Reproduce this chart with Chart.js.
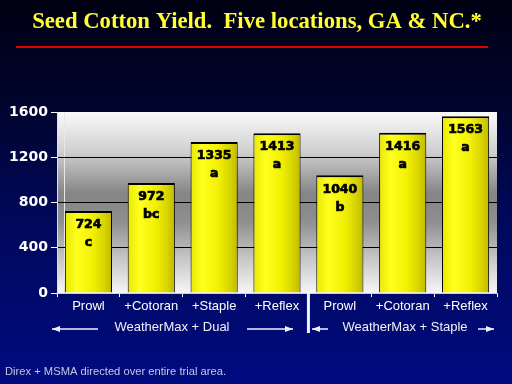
<!DOCTYPE html>
<html>
<head>
<meta charset="utf-8">
<script src="https://cdn.jsdelivr.net/npm/chart.js@4"></script>
<style>
  html, body { margin: 0; padding: 0; }
  body {
    width: 512px; height: 384px; overflow: hidden;
    background: linear-gradient(to bottom, #000012 0%, #00042a 25%, #000858 55%, #000b80 100%);
  }
  #wrap { position: relative; width: 512px; height: 384px; }
</style>
</head>
<body>
<div id="wrap"><canvas id="yieldChart" width="512" height="384"></canvas></div>
<script>
const categories = ['Prowl', '+Cotoran', '+Staple', '+Reflex', 'Prowl', '+Cotoran', '+Reflex'];
const yieldValues = [724, 972, 1335, 1413, 1040, 1416, 1563];
const letterGroups = ['c', 'bc', 'a', 'a', 'b', 'a', 'a'];
const yTicks = [0, 400, 800, 1200, 1600];
const groupNames = ['WeatherMax + Dual', 'WeatherMax + Staple'];
const titleText = 'Seed Cotton Yield.  Five locations, GA & NC.*';
const footText = 'Direx + MSMA directed over entire trial area.';

// fond gris du graphique (blanc -> gris -> blanc)
const plotBackground = {
    id: 'plotBackground',
    beforeDraw(chart) {
        const a = chart.chartArea;
        const c = chart.ctx;
        const g = c.createLinearGradient(0, a.top, 0, a.bottom);
        g.addColorStop(0, '#fafafa');
        g.addColorStop(0.22, '#cfcfcf');
        g.addColorStop(0.45, '#858585');
        g.addColorStop(0.6, '#8e8e8e');
        g.addColorStop(0.8, '#c4c4c4');
        g.addColorStop(1, '#f6f6f6');
        c.save();
        c.fillStyle = g;
        c.fillRect(a.left, a.top, a.right - a.left, a.bottom - a.top);
        c.strokeStyle = '#e8e8e8';
        c.lineWidth = 1;
        c.beginPath();
        c.moveTo(a.left + 7.5, a.top);
        c.lineTo(a.left + 7.5, a.bottom);
        c.stroke();
        c.restore();
    }
};

function arrow(c, x1, x2, y) {
    c.beginPath();
    c.moveTo(x1, y);
    c.lineTo(x2, y);
    c.stroke();
    const dir = x2 > x1 ? 1 : -1;
    c.beginPath();
    c.moveTo(x2, y);
    c.lineTo(x2 - dir * 8, y - 3);
    c.lineTo(x2 - dir * 8, y + 3);
    c.closePath();
    c.fill();
}

const decorations = {
    id: 'decorations',
    afterDraw(chart) {
        const c = chart.ctx;
        const a = chart.chartArea;
        const x = chart.scales.x;
        c.save();

        // titre
        c.fillStyle = '#ffff33';
        c.font = 'bold 22.7px "Liberation Serif", "Times New Roman", serif';
        c.textAlign = 'center';
        c.textBaseline = 'middle';
        c.fillText(titleText, 257, 22);

        c.strokeStyle = '#e00000';
        c.lineWidth = 2;
        c.beginPath();
        c.moveTo(16, 47);
        c.lineTo(488, 47);
        c.stroke();

        // valeurs + lettres dans les barres
        const meta = chart.getDatasetMeta(0);
        c.font = 'bold 12.5px "DejaVu Sans", sans-serif';
        c.fillStyle = '#000';
        c.strokeStyle = '#000';
        c.lineWidth = 0.7;
        meta.data.forEach((bar, i) => {
            const ty = bar.y + 14;
            c.fillText(String(yieldValues[i]), bar.x, ty);
            c.strokeText(String(yieldValues[i]), bar.x, ty);
            c.fillText(letterGroups[i], bar.x, ty + 18);
            c.strokeText(letterGroups[i], bar.x, ty + 18);
        });

        // groupes sous l'axe
        const sep = (x.getPixelForValue(3) + x.getPixelForValue(4)) / 2;
        c.fillStyle = '#f0f0f8';
        c.strokeStyle = '#f0f0f8';
        c.font = '13px Arial, "Liberation Sans", sans-serif';
        c.fillText(groupNames[0], 172, 327);
        c.fillText(groupNames[1], 405, 327);
        c.lineWidth = 1.5;
        arrow(c, 98, 52, 329);
        arrow(c, 247, 293, 329);
        arrow(c, 328, 312, 329);
        arrow(c, 478, 494, 329);

        c.lineWidth = 3;
        c.beginPath();
        c.moveTo(sep, a.bottom);
        c.lineTo(sep, 333);
        c.stroke();

        // note
        c.fillStyle = '#c4c8e0';
        c.font = '11.2px Arial, "Liberation Sans", sans-serif';
        c.textAlign = 'left';
        c.fillText(footText, 5, 372);
        c.restore();
    }
};

function barFill(ctx) {
    const chart = ctx.chart;
    const xs = chart.scales.x;
    if (!xs || ctx.dataIndex === undefined) return '#f0f000';
    const cx = xs.getPixelForValue(ctx.dataIndex);
    const w = xs.width / categories.length * 0.75;
    if (!isFinite(cx) || !isFinite(w) || w <= 0) return '#f0f000';
    const g = chart.ctx.createLinearGradient(cx - w / 2, 0, cx + w / 2, 0);
    g.addColorStop(0, '#e8e800');
    g.addColorStop(0.25, '#ffff20');
    g.addColorStop(0.6, '#f2f000');
    g.addColorStop(0.85, '#d6d200');
    g.addColorStop(1, '#c0b800');
    return g;
}

new Chart(document.getElementById('yieldChart'), {
    type: 'bar',
    data: {
        labels: categories,
        datasets: [{
            data: yieldValues,
            backgroundColor: barFill,
            borderColor: '#000',
            borderWidth: { top: 2, left: 1, right: 1, bottom: 0 },
            borderSkipped: 'bottom',
            barPercentage: 0.75,
            categoryPercentage: 1
        }]
    },
    options: {
        responsive: false,
        animation: false,
        layout: { padding: { top: 112, right: 15, left: 0, bottom: 0 } },
        plugins: {
            legend: { display: false },
            tooltip: { enabled: false }
        },
        scales: {
            x: {
                afterFit: s => { s.height = 91; },
                grid: { offset: true, drawOnChartArea: false, tickLength: 4, color: '#ffffff' },
                border: { display: true, color: '#d0d0d0' },
                ticks: { color: '#ffffff', font: { family: 'Arial', size: 13 }, padding: 2, maxRotation: 0 }
            },
            y: {
                min: 0,
                max: 1600,
                afterFit: s => { s.width = 57; },
                afterBuildTicks: s => { s.ticks = yTicks.map(v => ({ value: v })); },
                grid: { color: ctx => (ctx.tick && (ctx.tick.value === 0 || ctx.tick.value === 1600)) ? 'rgba(0,0,0,0)' : '#000', tickColor: '#ffffff', tickLength: 6, lineWidth: 1 },
                border: { display: true, color: '#e0e0e0' },
                ticks: {
                    color: '#ffffff',
                    font: { family: '"DejaVu Sans"', size: 14, weight: 'bold' },
                    padding: 3,
                    callback: v => String(v)
                }
            }
        }
    },
    plugins: [plotBackground, decorations]
});
</script>
</body>
</html>
